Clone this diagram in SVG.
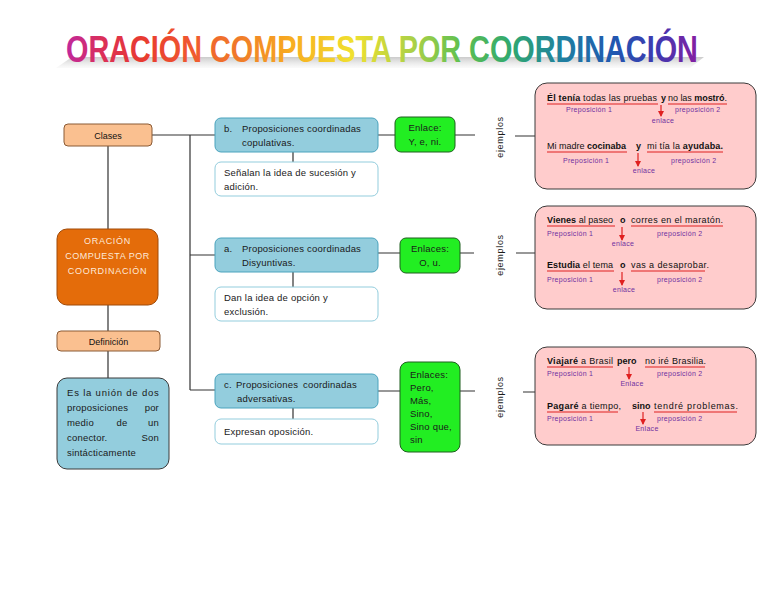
<svg xmlns="http://www.w3.org/2000/svg" width="768" height="594" viewBox="0 0 768 594">
<defs>
<linearGradient id="rainbow" gradientUnits="userSpaceOnUse" x1="0" y1="0" x2="636" y2="0">
<stop offset="0" stop-color="#c0289c"/>
<stop offset="0.06" stop-color="#dc3056"/>
<stop offset="0.12" stop-color="#e83a30"/>
<stop offset="0.2" stop-color="#f05a30"/>
<stop offset="0.27" stop-color="#f07a2a"/>
<stop offset="0.36" stop-color="#f8b020"/>
<stop offset="0.45" stop-color="#f0e030"/>
<stop offset="0.55" stop-color="#a8d048"/>
<stop offset="0.62" stop-color="#60c050"/>
<stop offset="0.7" stop-color="#30a870"/>
<stop offset="0.78" stop-color="#2080a0"/>
<stop offset="0.86" stop-color="#2058b0"/>
<stop offset="0.93" stop-color="#4038b0"/>
<stop offset="1" stop-color="#8c1ca0"/>
</linearGradient>
<linearGradient id="shade" x1="0" y1="0" x2="0" y2="1">
<stop offset="0" stop-color="#a0a0a0" stop-opacity="0.55"/>
<stop offset="1" stop-color="#d0d0d0" stop-opacity="0.1"/>
</linearGradient>
<marker id="ah" markerWidth="6" markerHeight="6" refX="5" refY="3" orient="auto" markerUnits="userSpaceOnUse">
<path d="M0,0 L6,3 L0,6 z" fill="#e02020"/>
</marker>
<style>
.t{font-family:"Liberation Sans",Arial,sans-serif;font-size:9.5px;fill:#1a1a1a;letter-spacing:0.2px}
.s{font-family:"Liberation Sans",Arial,sans-serif;font-size:9px;fill:#111}
.lab{font-family:"Liberation Sans",Arial,sans-serif;font-size:7px;fill:#7030a0;letter-spacing:0.3px}
.b{font-weight:bold}
.c{text-anchor:middle}
.e{text-anchor:end}
.peach{fill:#fac090;stroke:#8a5a35;stroke-width:1}
.blue{fill:#93cddd;stroke:#4aa3bd;stroke-width:1}
.white{fill:#ffffff;stroke:#93cddd;stroke-width:1}
.green{fill:#22ee22;stroke:#1f5f1f;stroke-width:1}
.pink{fill:#ffcccc;stroke:#3a3a3a;stroke-width:1}
.conn{stroke:#333;stroke-width:1.2;fill:none}
.ul{stroke:#e02020;stroke-width:1.1}
.arr{stroke:#e02020;stroke-width:1.2;marker-end:url(#ah)}
.ej{font-family:"Liberation Sans",Arial,sans-serif;font-size:9px;fill:#1a1a1a;letter-spacing:0.7px}
</style>
</defs>
<rect width="768" height="594" fill="#ffffff"/>

<g id="title">
<polygon points="56,68 690,68 704,57 72,57" fill="url(#shade)"/>
<text x="0" y="0" transform="translate(66,62) scale(1,1.3)" font-family="'Liberation Sans',Arial,sans-serif" font-size="28.8" font-weight="bold" fill="url(#rainbow)">ORACIÓN COMPUESTA POR COORDINACIÓN</text>
</g>

<g id="connectors">
<path class="conn" d="M108,146 V229 M108,305 V331 M108,351 V378"/>
<path class="conn" d="M152,135 H215 M190,135 V390 M190,255 H215 M190,390 H215"/>
<path class="conn" d="M293,152 V162 M293,272 V287 M293,408 V419"/>
<path class="conn" d="M378,135 H395 M455,135 H475 M515,136 H535"/>
<path class="conn" d="M378,253 H400 M460,253 H474 M516,253 H535"/>
<path class="conn" d="M378,391 H400 M460,391 H475 M523,392 H535"/>
</g>

<g id="clases">
<rect class="peach" x="64" y="124" width="88" height="22" rx="4"/>
<text class="s c" x="108" y="138.5">Clases</text>
</g>

<g id="oracion">
<rect x="57" y="229" width="101" height="76" rx="10" fill="#e46c0a" stroke="#a04a08" stroke-width="1"/>
<text class="s c" x="107.5" y="244" style="fill:#fde9d9;letter-spacing:0.7px">ORACIÓN</text>
<text class="s c" x="107.5" y="259" style="fill:#fde9d9;letter-spacing:0.5px">COMPUESTA POR</text>
<text class="s c" x="107.5" y="274" style="fill:#fde9d9;letter-spacing:0.7px">COORDINACIÓN</text>
</g>

<g id="definicion">
<rect class="peach" x="57" y="331" width="103" height="20" rx="4"/>
<text class="s c" x="108.5" y="344.5">Definición</text>
</g>

<g id="definicion-texto">
<rect x="57" y="378" width="112" height="91" rx="10" fill="#93cddd" stroke="#3a3a3a" stroke-width="1"/>
<text class="t" x="67" y="396" textLength="92" lengthAdjust="spacing">Es la unión de dos</text>
<text class="t" x="67" y="411">proposiciones</text>
<text class="t e" x="159" y="411">por</text>
<text class="t" x="67" y="426">medio</text>
<text class="t c" x="122" y="426">de</text>
<text class="t e" x="159" y="426">un</text>
<text class="t" x="67" y="441">conector.</text>
<text class="t e" x="159" y="441">Son</text>
<text class="t" x="67" y="456">sintácticamente</text>
</g>

<g id="copulativas">
<rect class="blue" x="215" y="118" width="163" height="34" rx="6"/>
<text class="t" x="224" y="132">b.</text>
<text class="t" x="242" y="132">Proposiciones coordinadas</text>
<text class="t" x="242" y="146">copulativas.</text>
</g>
<g id="copulativas-desc">
<rect class="white" x="215" y="162" width="163" height="34" rx="6"/>
<text class="t" x="224" y="176">Señalan la idea de sucesión y</text>
<text class="t" x="224" y="190">adición.</text>
</g>
<g id="enlace-copulativas">
<rect class="green" x="395" y="117" width="60" height="35" rx="6"/>
<text class="t c" x="425" y="131">Enlace:</text>
<text class="t c" x="425" y="145">Y, e, ni.</text>
</g>

<g id="disyuntivas">
<rect class="blue" x="215" y="238" width="163" height="34" rx="6"/>
<text class="t" x="224" y="252">a.</text>
<text class="t" x="242" y="252">Proposiciones coordinadas</text>
<text class="t" x="242" y="266">Disyuntivas.</text>
</g>
<g id="disyuntivas-desc">
<rect class="white" x="215" y="287" width="163" height="34" rx="6"/>
<text class="t" x="224" y="301">Dan la idea de opción y</text>
<text class="t" x="224" y="315">exclusión.</text>
</g>
<g id="enlace-disyuntivas">
<rect class="green" x="400" y="238" width="60" height="35" rx="6"/>
<text class="t c" x="430" y="252">Enlaces:</text>
<text class="t c" x="430" y="266">O, u.</text>
</g>

<g id="adversativas">
<rect class="blue" x="215" y="374" width="163" height="34" rx="6"/>
<text class="t" x="224" y="388">c.</text>
<text class="t" x="236" y="388">Proposiciones</text>
<text class="t e" x="357" y="388">coordinadas</text>
<text class="t" x="237" y="402">adversativas.</text>
</g>
<g id="adversativas-desc">
<rect class="white" x="215" y="419" width="163" height="25" rx="6"/>
<text class="t" x="224" y="435">Expresan oposición.</text>
</g>
<g id="enlace-adversativas">
<rect class="green" x="400" y="362" width="60" height="90" rx="8"/>
<text class="t" x="410" y="378">Enlaces:</text>
<text class="t" x="410" y="391">Pero,</text>
<text class="t" x="410" y="404">Más,</text>
<text class="t" x="410" y="417">Sino,</text>
<text class="t" x="410" y="430">Sino que,</text>
<text class="t" x="410" y="443">sin</text>
</g>

<g id="ejemplos-labels">
<text class="ej c" transform="translate(503,137) rotate(-90)">ejemplos</text>
<text class="ej c" transform="translate(503,255) rotate(-90)">ejemplos</text>
<text class="ej c" transform="translate(503,397) rotate(-90)">ejemplos</text>
</g>

<g id="ejemplos-copulativas">
<rect class="pink" x="535" y="83" width="221" height="106" rx="12"/>
<text class="s" x="547" y="101" textLength="110" lengthAdjust="spacing"><tspan class="b">Él tenía</tspan> todas las pruebas</text>
<text class="s b" x="661" y="101">y</text>
<text class="s" x="668" y="101" textLength="59" lengthAdjust="spacing">no las <tspan class="b">mostró</tspan>.</text>
<line class="ul" x1="547" y1="104" x2="658" y2="104"/>
<line class="ul" x1="668" y1="104" x2="727" y2="104"/>
<text class="lab" x="566" y="112">Preposición 1</text>
<text class="lab" x="675" y="112">preposición 2</text>
<line class="arr" x1="661" y1="105" x2="661" y2="116"/>
<text class="lab c" x="663" y="123">enlace</text>

<text class="s" x="547" y="149" textLength="79" lengthAdjust="spacing">Mi madre <tspan class="b">cocinaba</tspan></text>
<text class="s b" x="636" y="149">y</text>
<text class="s" x="647" y="149" textLength="76" lengthAdjust="spacing">mi tía la <tspan class="b">ayudaba.</tspan></text>
<line class="ul" x1="547" y1="152" x2="627" y2="152"/>
<line class="ul" x1="647" y1="152" x2="723" y2="152"/>
<text class="lab" x="563" y="163">Preposición 1</text>
<text class="lab" x="671" y="163">preposición 2</text>
<line class="arr" x1="638" y1="153" x2="638" y2="166"/>
<text class="lab c" x="644" y="173">enlace</text>
</g>

<g id="ejemplos-disyuntivas">
<rect class="pink" x="535" y="206" width="221" height="103" rx="12"/>
<text class="s" x="547" y="223" textLength="66" lengthAdjust="spacing"><tspan class="b">Vienes</tspan> al paseo</text>
<text class="s b" x="620" y="223">o</text>
<text class="s" x="631" y="223" textLength="92" lengthAdjust="spacing">corres en el maratón.</text>
<line class="ul" x1="547" y1="226" x2="615" y2="226"/>
<line class="ul" x1="631" y1="226" x2="723" y2="226"/>
<text class="lab" x="547" y="236">Preposición 1</text>
<text class="lab" x="657" y="236">preposición 2</text>
<line class="arr" x1="622" y1="227" x2="622" y2="240"/>
<text class="lab c" x="623" y="246">enlace</text>

<text class="s" x="547" y="268" textLength="66" lengthAdjust="spacing"><tspan class="b">Estudia</tspan> el tema</text>
<text class="s b" x="620" y="268">o</text>
<text class="s" x="631" y="268" textLength="78" lengthAdjust="spacing">vas  a desaprobar.</text>
<line class="ul" x1="547" y1="271" x2="614" y2="271"/>
<line class="ul" x1="631" y1="271" x2="705" y2="271"/>
<text class="lab" x="547" y="282">Preposición 1</text>
<text class="lab" x="657" y="282">preposición 2</text>
<line class="arr" x1="622" y1="272" x2="622" y2="285"/>
<text class="lab c" x="624" y="292">enlace</text>
</g>

<g id="ejemplos-adversativas">
<rect class="pink" x="535" y="347" width="221" height="98" rx="12"/>
<text class="s" x="547" y="364" textLength="66" lengthAdjust="spacing"><tspan class="b">Viajaré</tspan> a Brasil</text>
<text class="s b" x="617" y="364">pero</text>
<text class="s" x="645" y="364" textLength="61" lengthAdjust="spacing">no iré Brasilia.</text>
<line class="ul" x1="547" y1="367" x2="613" y2="367"/>
<line class="ul" x1="645" y1="367" x2="705" y2="367"/>
<text class="lab" x="547" y="376">Preposición 1</text>
<text class="lab" x="657" y="376">preposición 2</text>
<line class="arr" x1="629" y1="367" x2="629" y2="379"/>
<text class="lab c" x="632" y="386">Enlace</text>

<text class="s" x="547" y="409" textLength="74" lengthAdjust="spacing"><tspan class="b">Pagaré</tspan>  a tiempo,</text>
<text class="s b" x="632" y="409">sino</text>
<text class="s" x="654" y="409" textLength="84" lengthAdjust="spacing">tendré  problemas.</text>
<line class="ul" x1="547" y1="412" x2="618" y2="412"/>
<line class="ul" x1="654" y1="412" x2="737" y2="412"/>
<text class="lab" x="547" y="421">Preposición 1</text>
<text class="lab" x="657" y="421">preposición 2</text>
<line class="arr" x1="643" y1="412" x2="643" y2="424"/>
<text class="lab c" x="647" y="431">Enlace</text>
</g>
</svg>
